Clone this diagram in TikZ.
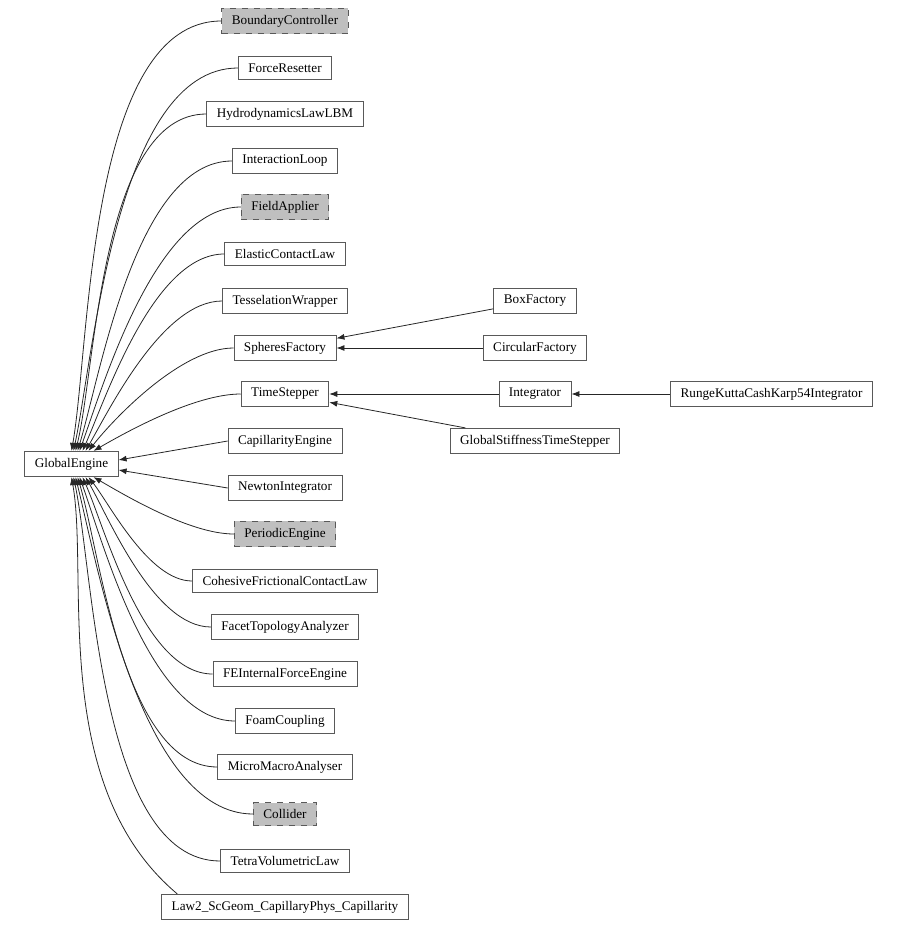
\documentclass[tikz,border=0pt]{standalone}
\usepackage{fontspec}
\setmainfont{Liberation Serif}
\usetikzlibrary{arrows.meta}
\begin{document}
\begin{tikzpicture}[x=0.5pt,y=-0.5pt,
		cls/.style={draw=black!65, line width=0.4pt, fill=white, inner xsep=5pt,
			minimum height=11.5pt, font=\fontsize{6.6}{8}\selectfont},
		undoc/.style={cls, fill=black!25, dashed},
		edge/.style={line width=0.4pt, black!85, -{Latex[length=4pt,width=3pt]}}]
		\useasboundingbox (0,0) rectangle (900,930);
		
		% Base class
		\node[cls] (ge) at (71.5,464) {GlobalEngine};
		
		% Derived classes, first level
		\node[undoc] (bc) at (285,21) {BoundaryController};
		\node[cls] (fr) at (285,68) {ForceResetter};
		\node[cls] (hd) at (285,114) {HydrodynamicsLawLBM};
		\node[cls] (il) at (285,161) {InteractionLoop};
		\node[undoc] (fa) at (285,207) {FieldApplier};
		\node[cls] (ec) at (285,254) {ElasticContactLaw};
		\node[cls] (tw) at (285,301) {TesselationWrapper};
		\node[cls] (sf) at (285,348) {SpheresFactory};
		\node[cls] (ts) at (285,394) {TimeStepper};
		\node[cls] (ce) at (285,441) {CapillarityEngine};
		\node[cls] (ni) at (285,488) {NewtonIntegrator};
		\node[undoc] (pe) at (285,534) {PeriodicEngine};
		\node[cls] (cf) at (285,581) {CohesiveFrictionalContactLaw};
		\node[cls] (ft) at (285,627) {FacetTopologyAnalyzer};
		\node[cls] (fe) at (285,674) {FEInternalForceEngine};
		\node[cls] (fc) at (285,721) {FoamCoupling};
		\node[cls] (mm) at (285,767) {MicroMacroAnalyser};
		\node[undoc] (co) at (285,814) {Collider};
		\node[cls] (tv) at (285,861) {TetraVolumetricLaw};
		\node[cls] (lw) at (285,907) {Law2\_ScGeom\_CapillaryPhys\_Capillarity};
		
		% Second and third level
		\node[cls] (bf) at (535,301) {BoxFactory};
		\node[cls] (cr) at (535,348) {CircularFactory};
		\node[cls] (in) at (535,394) {Integrator};
		\node[cls] (gs) at (535,441) {GlobalStiffnessTimeStepper};
		\node[cls] (rk) at (771.5,394) {RungeKuttaCashKarp54Integrator};
		
		% Edges into the top of GlobalEngine
		\foreach \n/\dx/\ang in {bc/0/80, fr/1/78, hd/2/76, il/3/73, fa/4/70,
			ec/5.5/66, tw/7/60, sf/8.5/52, ts/11/30} {
			\draw[edge] (\n.west) to[out=180, in=\ang, out looseness=0.75, in looseness=0.6] ([xshift=\dx pt]ge.north);
		}
		
		% Edges into the right side
		\draw[edge] (ce.west) -- ([yshift=2pt]ge.east);
		\draw[edge] (ni.west) -- ([yshift=-3pt]ge.east);
		
		% Edges into the bottom of GlobalEngine
		\foreach \n/\dx/\ang in {pe/11/-30, cf/8.5/-52, ft/7/-60, fe/5.5/-66, fc/4/-70,
			mm/3/-73, co/2/-76, tv/1/-78} {
			\draw[edge] (\n.west) to[out=180, in=\ang, out looseness=0.75, in looseness=0.6] ([xshift=\dx pt]ge.south);
		}
		\draw[edge] ([xshift=8pt]lw.north west) to[out=140, in=-80, in looseness=0.6] (ge.south);
		
		% Other edges
		\draw[edge] (bf) -- (sf);
		\draw[edge] (cr) -- (sf);
		\draw[edge] (in) -- (ts);
		\draw[edge] (gs) -- (ts);
		\draw[edge] (rk) -- (in);
	\end{tikzpicture}
\end{document}
